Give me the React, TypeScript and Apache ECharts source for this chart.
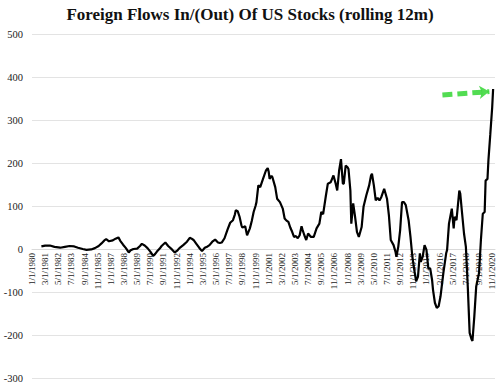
import React, { useEffect, useRef } from "react";
import * as echarts from "echarts";

// Month index since Jan 1980 (0 = 1/1/1980) and rolling 12m flows ($bn)
const months: number[] = [
  10, 14, 19, 24, 30, 35, 40, 45, 49, 54, 58, 63, 67, 71, 74, 77, 79, 82, 86, 89,
  92, 94, 97, 100, 103, 105, 108, 112, 115, 117, 120, 123, 126, 129, 131, 133, 136, 138, 142, 145,
  149, 152, 155, 157, 161, 165, 168, 170, 172, 175, 178, 181, 184, 187, 189, 192, 195, 198, 200, 202,
  205, 208, 211, 214, 216, 217, 219, 221, 223, 224, 226, 227, 229, 232, 234, 236, 238, 239, 241, 243,
  246, 249, 251, 252, 253, 255, 256, 259, 261, 264, 267, 269, 271, 273, 275, 277, 279, 281, 283, 285,
  287, 288, 290, 292, 294, 297, 300, 303, 306, 308, 310, 313, 315, 318, 321, 323, 325, 327, 329, 331,
  332, 334, 336, 337, 339, 340, 342, 344, 346, 348, 351, 353, 356, 359, 361, 362, 364, 366, 368, 370,
  372, 375, 378, 380, 382, 385, 387, 388, 390, 392, 394, 396, 398, 401, 403, 405, 407, 409, 411, 413,
  414, 416, 418, 420, 422, 424, 426, 427, 429, 431, 433, 435, 438, 441, 442, 444, 447, 449, 450, 452,
  455, 456, 458, 460, 462, 464, 466, 468, 469, 471, 473, 476, 478, 480, 482, 483, 485, 486, 488, 490,
  491,
];
const flows: number[] = [
  6, 8, 8, 5, 3, 5, 7, 6, 3, 0, -2, -1, 2, 7, 13, 20, 23, 18, 20, 24,
  27, 19, 10, 2, -8, -3, 0, 1, 7, 12, 8, 2, -6, -16, -12, -6, 1, 7, 15, 7,
  -1, -8, -3, 2, 9, 17, 26, 24, 21, 12, 3, -5, 3, 6, 9, 17, 22, 15, 14, 15,
  25, 44, 61, 67, 80, 90, 88, 75, 55, 50, 52, 53, 32, 48, 65, 86, 100, 109, 148, 144,
  163, 182, 188, 180, 163, 170, 167, 144, 117, 109, 94, 71, 66, 63, 50, 40, 28, 30, 25, 32,
  53, 45, 32, 21, 36, 28, 28, 48, 59, 86, 81, 125, 152, 155, 171, 155, 136, 182, 209, 152,
  152, 194, 190, 186, 136, 59, 106, 75, 40, 28, 51, 98, 125, 148, 171, 175, 148, 113, 119, 113,
  121, 140, 117, 79, 21, 9, -6, -18, 5, 44, 109, 109, 102, 67, 28, -18, -48, -75, -64, -10,
  -30, -18, 9, -2, -45, -45, -72, -95, -125, -137, -133, -110, -56, -10, -2, 59, 94, 48, 75, 67,
  136, 129, 82, 36, 5, -87, -195, -210, -214, -156, -87, -56, 21, 82, 86, 159, 163, 206, 267, 329,
  372,
];

// Annotation arrow (data space): start and end
const arrowMonths: number[] = [437, 487];
const arrowValues: number[] = [358, 366];

const yTicks = { min: -300, max: 500, interval: 100 };
const xTicks = { min: 0, max: 493, interval: 14 };

const TITLE = "Foreign Flows In/(Out) Of US Stocks (rolling 12m)";

function monthLabel(m: number): string {
  if (Math.abs(m % 14) > 1e-6) return "";
  const mo = (m % 12) + 1;
  const yr = 1980 + Math.floor(m / 12);
  return `${mo}/1/${yr}`;
}

export default function App() {
  const ref = useRef<HTMLDivElement>(null);
  useEffect(() => {
    if (!ref.current) return;
    const chart = echarts.init(ref.current, undefined, { renderer: "svg" });
    const serif = "'Liberation Serif', 'DejaVu Serif', serif";
    const H = 386;
    const gridTop = 34;
    const gridBottom = 8;
    const plotH = H - gridTop - gridBottom;
    // height of upper part (from max down to zero)
    const upperH = (plotH * (yTicks.max - 0)) / (yTicks.max - yTicks.min);
    chart.setOption({
      animation: false,
      backgroundColor: "#ffffff",
      title: {
        text: TITLE,
        left: "center",
        top: 1,
        textStyle: {
          fontFamily: serif,
          fontWeight: "bold",
          fontSize: 17,
          color: "#111",
        },
      },
      grid: [
        { left: 32, right: 5, top: gridTop, bottom: gridBottom, containLabel: false, outerBoundsMode: "none" },
        { left: 32, right: 5, top: gridTop, height: upperH, containLabel: false, outerBoundsMode: "none" },
      ],
      xAxis: [
        {
          type: "value",
          gridIndex: 0,
          min: xTicks.min,
          max: xTicks.max,
          interval: xTicks.interval,
          axisLine: { show: false },
          axisTick: { show: false },
          splitLine: { show: false },
          axisLabel: { show: false },
        },
        {
          type: "value",
          gridIndex: 1,
          min: xTicks.min,
          max: xTicks.max,
          interval: xTicks.interval,
          axisLine: { show: true, onZero: false, lineStyle: { color: "#d9d9d9", width: 1 } },
          axisTick: { show: false },
          splitLine: { show: false },
          axisLabel: {
            rotate: 90,
            fontSize: 9,
            fontFamily: serif,
            color: "#222",
            margin: 4,
            showMaxLabel: false,
            formatter: (v: number) => monthLabel(v),
          },
        },
      ],
      yAxis: [
        {
          type: "value",
          gridIndex: 0,
          min: yTicks.min,
          max: yTicks.max,
          interval: yTicks.interval,
          axisLine: { show: false },
          axisTick: { show: false },
          splitLine: { show: true, lineStyle: { color: "#e3e3e3", width: 1 } },
          axisLabel: {
            fontSize: 10.5,
            fontFamily: serif,
            color: "#222",
            margin: 9,
          },
        },
        {
          type: "value",
          gridIndex: 1,
          min: 0,
          max: yTicks.max,
          show: false,
          splitLine: { show: false },
        },
      ],
      series: [
        {
          type: "line",
          xAxisIndex: 0,
          yAxisIndex: 0,
          data: months.map((m, i) => [m, flows[i]]),
          showSymbol: false,
          z: 5,
          lineStyle: { color: "#000", width: 2.2 },
          itemStyle: { color: "#000" },
          markLine: {
            silent: true,
            symbol: ["none", "arrow"],
            symbolSize: [10, 10],
            label: { show: false },
            lineStyle: { color: "#3fd83f", width: 5, type: [10, 5], opacity: 0.9 },
            data: [
              [
                { coord: [arrowMonths[0], arrowValues[0]] },
                { coord: [arrowMonths[1], arrowValues[1]] },
              ],
            ],
          },
        },
      ],
    });
    return () => chart.dispose();
  }, []);
  return (
    <div
      ref={ref}
      style={{ position: "fixed", left: 0, top: 0, width: 500, height: 386 }}
    />
  );
}
